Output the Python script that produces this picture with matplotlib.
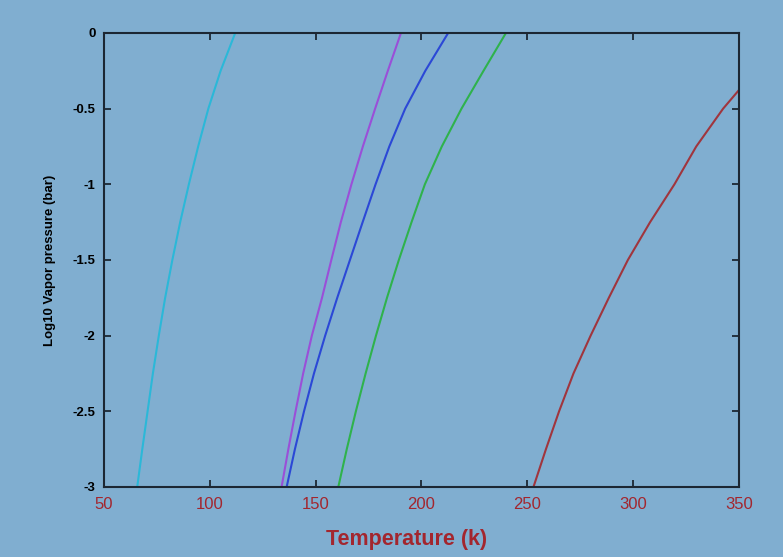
import matplotlib.pyplot as plt

# vapor pressure curves: temperature (K), log10 pressure (bar)
logp = [-3.0, -2.75, -2.5, -2.25, -2.0, -1.75, -1.5, -1.25, -1.0, -0.75, -0.5, -0.25, 0.0]

cyan_T = [65.7, 68.1, 70.6, 73.1, 75.9, 78.9, 82.3, 86.0, 90.1, 94.5, 99.3, 105.1, 112.0]
purple_T = [133.9, 137.1, 140.5, 144.1, 148.2, 153.0, 157.4, 161.9, 166.9, 172.3, 178.1, 184.1, 190.3]
blue_T = [136.3, 140.2, 144.5, 149.2, 154.5, 160.2, 166.2, 172.2, 178.3, 184.8, 192.3, 201.8, 212.6]
green_T = [160.7, 164.7, 169.0, 173.6, 178.5, 183.7, 189.3, 195.3, 201.6, 209.6, 218.9, 229.3, 239.9]

red_P = [-3.0, -2.75, -2.5, -2.25, -2.0, -1.75, -1.5, -1.25, -1.0, -0.75, -0.5, -0.38]
red_T = [252.9, 258.8, 265.0, 271.8, 279.9, 288.5, 297.5, 308.0, 319.5, 329.8, 342.5, 349.8]

xticks = [50, 100, 150, 200, 250, 300, 350]
yticks = [0, -0.5, -1, -1.5, -2, -2.5, -3]
ytick_labels = ['0', '-0.5', '-1', '-1.5', '-2', '-2.5', '-3']

bg = '#80aed0'
plt.rcParams['font.family'] = ['Liberation Sans', 'DejaVu Sans']

fig = plt.figure(figsize=(7.83, 5.57), dpi=100, facecolor=bg)
ax = fig.add_axes([0.1328, 0.1257, 0.811, 0.8151])
ax.set_facecolor(bg)

ax.plot(cyan_T, logp, color='#2bb8d8', lw=1.5)
ax.plot(purple_T, logp, color='#9a4fd8', lw=1.5)
ax.plot(blue_T, logp, color='#2b48d6', lw=1.5)
ax.plot(green_T, logp, color='#2fb24c', lw=1.5)
ax.plot(red_T, red_P, color='#a0353d', lw=1.5)

ax.set_xlim(50, 350)
ax.set_ylim(-3, 0)
ax.set_xticks(xticks)
ax.set_yticks(yticks)
ax.set_yticklabels(ytick_labels)

for s in ax.spines.values():
    s.set_color('#1c2733')
    s.set_linewidth(1.5)
ax.tick_params(direction='in', top=True, right=True, length=5, width=1.3, color='#1c2733')
ax.tick_params(axis='x', labelsize=12, labelcolor='#a3262e', pad=7)
ax.tick_params(axis='y', labelsize=9.5, labelcolor='black', pad=6)
for t in ax.get_yticklabels():
    t.set_fontweight('bold')

ax.set_xlabel('Temperature (k)', fontsize=15.5, fontweight='bold', color='#a3262e')
ax.xaxis.set_label_coords(0.476, -0.092)
ax.set_ylabel('Log10 Vapor pressure (bar)', fontsize=9.5, fontweight='bold', color='black')
ax.yaxis.set_label_coords(-0.076, 0.5)

plt.savefig('out.png', dpi=100, facecolor=bg)
